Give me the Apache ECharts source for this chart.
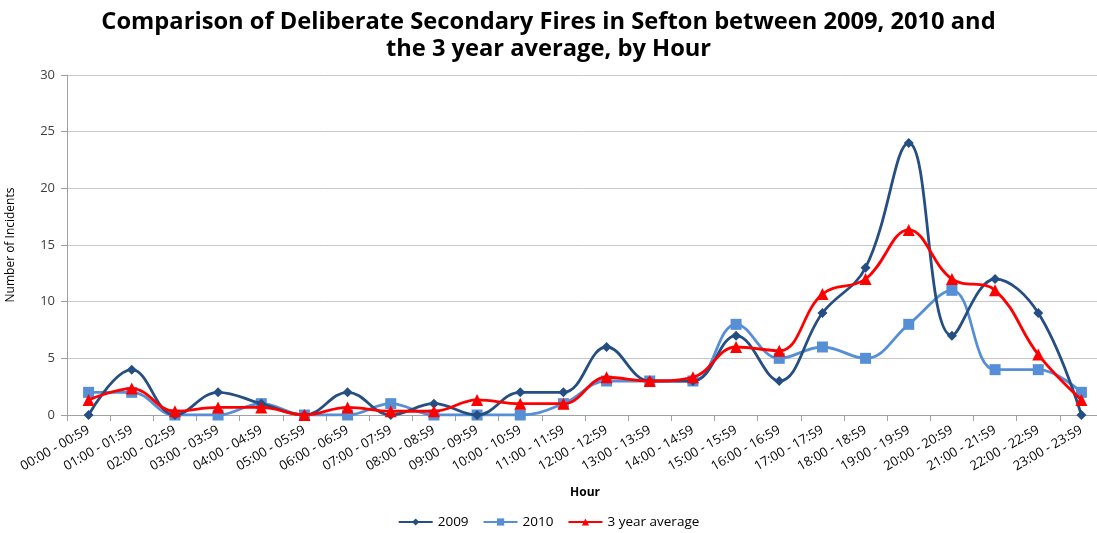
<!DOCTYPE html>
<html>
<head>
<meta charset="utf-8">
<script src="https://cdn.jsdelivr.net/npm/echarts@6/dist/echarts.min.js"></script>
<style>
  html, body { margin: 0; padding: 0; background: #fff; }
  #chart { width: 1097px; height: 533px; }
</style>
</head>
<body>
<div id="chart"></div>
<script>
// hour bands on the x axis
const hours = [
  '00:00 - 00:59', '01:00 - 01:59', '02:00 - 02:59', '03:00 - 03:59',
  '04:00 - 04:59', '05:00 - 05:59', '06:00 - 06:59', '07:00 - 07:59',
  '08:00 - 08:59', '09:00 - 09:59', '10:00 - 10:59', '11:00 - 11:59',
  '12:00 - 12:59', '13:00 - 13:59', '14:00 - 14:59', '15:00 - 15:59',
  '16:00 - 16:59', '17:00 - 17:59', '18:00 - 18:59', '19:00 - 19:59',
  '20:00 - 20:59', '21:00 - 21:59', '22:00 - 22:59', '23:00 - 23:59'
]

const fires2009 = [0, 4, 0, 2, 1, 0, 2, 0, 1, 0, 2, 2, 6, 3, 3, 7, 3, 9, 13, 24, 7, 12, 9, 0]
const fires2010 = [2, 2, 0, 0, 1, 0, 0, 1, 0, 0, 0, 1, 3, 3, 3, 8, 5, 6, 5, 8, 11, 4, 4, 2]
const avg3yr = [1.33, 2.33, 0.33, 0.67, 0.67, 0, 0.67, 0.33, 0.33, 1.33, 1, 1, 3.33, 3, 3.33, 6, 5.67, 10.67, 12, 16.33, 12, 11, 5.33, 1.33]

const chart = echarts.init(document.getElementById('chart'))

const font = 'Open Sans, DejaVu Sans, sans-serif'

const options = {
  backgroundColor: '#fff',
  animation: false,
  title: {
    text: 'Comparison of Deliberate Secondary Fires in Sefton between 2009, 2010 and\nthe 3 year average, by Hour',
    left: 'center',
    top: 4,
    textStyle: {
      fontFamily: font,
      fontWeight: 'bold',
      fontSize: 23.7,
      lineHeight: 27,
      color: '#000'
    }
  },
  legend: {
    top: 513,
    left: 'center',
    padding: 2,
    itemWidth: 34,
    itemHeight: 9,
    itemGap: 14,
    textStyle: { fontFamily: font, fontSize: 13.5, color: '#000' },
    data: ['2009', '2010', '3 year average']
  },
  grid: {
    left: 67,
    right: -6,
    top: 75,
    bottom: 118,
    containLabel: false,
    outerBoundsMode: 'none'
  },
  xAxis: {
    type: 'category',
    data: hours,
    boundaryGap: true,
    name: 'Hour',
    nameLocation: 'middle',
    nameGap: 72,
    nameTextStyle: { fontFamily: font, fontWeight: 'bold', fontSize: 12, color: '#000' },
    axisLine: { lineStyle: { color: '#a0a0a0' } },
    axisTick: { show: true, alignWithLabel: false, length: 6, lineStyle: { color: '#a0a0a0' } },
    axisLabel: {
      rotate: 30,
      interval: 0,
      margin: 14,
      fontFamily: font,
      fontSize: 13,
      color: '#000'
    }
  },
  yAxis: {
    type: 'value',
    min: 0,
    max: 30,
    interval: 5,
    name: 'Number of Incidents',
    nameLocation: 'middle',
    nameGap: 50,
    nameTextStyle: { fontFamily: font, fontSize: 12, color: '#000' },
    axisLine: { show: true, lineStyle: { color: '#a0a0a0' } },
    axisTick: { show: true, length: 6, lineStyle: { color: '#a0a0a0' } },
    axisLabel: { fontFamily: font, fontSize: 13, color: '#404040', margin: 12 },
    splitLine: { lineStyle: { color: '#c8c8c8', width: 1 } }
  },
  series: [
    {
      name: '2009',
      type: 'line',
      data: fires2009,
      smooth: 0.4,
      symbol: 'diamond',
      symbolSize: 10,
      z: 3,
      lineStyle: { color: '#254e83', width: 2.8 },
      itemStyle: { color: '#254e83' }
    },
    {
      name: '2010',
      type: 'line',
      data: fires2010,
      smooth: 0.4,
      symbol: 'rect',
      symbolSize: 11,
      z: 2,
      lineStyle: { color: '#568fd6', width: 2.8 },
      itemStyle: { color: '#568fd6' }
    },
    {
      name: '3 year average',
      type: 'line',
      data: avg3yr,
      smooth: 0.4,
      symbol: 'triangle',
      symbolSize: 12,
      z: 4,
      lineStyle: { color: '#ff0000', width: 2.8 },
      itemStyle: { color: '#ff0000' }
    }
  ]
}

chart.setOption(options)

window.addEventListener('resize', function () { chart.resize() })
</script>
</body>
</html>
